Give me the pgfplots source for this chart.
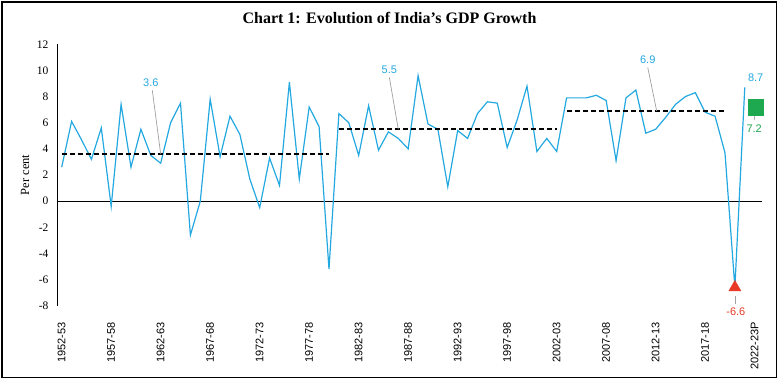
\documentclass[border=0pt]{standalone}
\usepackage{fontspec}
\setmainfont{Liberation Serif}
\newfontfamily\sansf{Liberation Sans}
\usepackage{pgfplots}
\pgfplotsset{compat=1.18}
\definecolor{gdpblue}{RGB}{35,168,224}
\definecolor{gred}{RGB}{232,58,38}
\definecolor{ggreen}{RGB}{30,168,80}
\definecolor{leader}{RGB}{160,160,160}
\begin{document}
\begin{tikzpicture}
\useasboundingbox (0,0) rectangle (779pt,380pt);
\draw[line width=1.2pt] (2pt,2.5pt) rectangle (776.5pt,378pt);
\node[font=\fontsize{16}{19}\selectfont\bfseries] at (389.5pt,362pt) {Chart 1: Evolution of India's GDP Growth};
\begin{axis}[
 at={(57pt,74.3pt)}, anchor=south west,
 scale only axis, width=705pt, height=261.4pt,
 xmin=-0.475, xmax=70.74, ymin=-8, ymax=12,
 axis lines*=left,
 x axis line style={draw=none},
 y axis line style={line width=0.8pt},
 major tick length=0pt,
 xtick={0,5,...,70},
 xticklabels={1952-53,1957-58,1962-63,1967-68,1972-73,1977-78,1982-83,1987-88,1992-93,1997-98,2002-03,2007-08,2012-13,2017-18,2022-23P},
 xticklabel style={font=\sansf\fontsize{11}{13}\selectfont, rotate=90, anchor=east},
 xticklabel shift=13pt,
 ytick={-8,-6,...,12},
 yticklabel style={font=\fontsize{11.5}{13}\selectfont, anchor=east},
 yticklabel shift=5pt,
 /pgf/number format/assume math mode=true,
 ylabel={Per cent},
 every axis y label/.style={at={(axis description cs:0,0.5)}, xshift=-32pt, rotate=90, anchor=center, font=\fontsize{12.5}{14}\selectfont},
 clip=false,
]
\addplot[black, line width=0.8pt, forget plot] coordinates {(-0.475,0) (70.74,0)};
\addplot[gdpblue, line width=1.2pt] coordinates {
(0,2.6) (1,6.1) (2,4.7) (3,3.2) (4,5.6) (5,-0.4) (6,7.4) (7,2.6) (8,5.5) (9,3.5)
(10,2.9) (11,6.0) (12,7.5) (13,-2.6) (14,0.0) (15,7.8) (16,3.4) (17,6.5) (18,5.1) (19,1.7)
(20,-0.5) (21,3.3) (22,1.2) (23,9.1) (24,1.7) (25,7.2) (26,5.7) (27,-5.2) (28,6.7) (29,6.0)
(30,3.5) (31,7.3) (32,3.9) (33,5.3) (34,4.8) (35,4.0) (36,9.6) (37,5.9) (38,5.5) (39,1.1)
(40,5.4) (41,4.8) (42,6.7) (43,7.6) (44,7.5) (45,4.1) (46,6.2) (47,8.8) (48,3.8) (49,4.8)
(50,3.8) (51,7.9) (52,7.9) (53,7.9) (54,8.1) (55,7.7) (56,3.1) (57,7.9) (58,8.5) (59,5.2)
(60,5.5) (61,6.4) (62,7.4) (63,8.0) (64,8.3) (65,6.8) (66,6.5) (67,3.7) (68,-6.6) (69,8.7)
};
\addplot[black, line width=1.6pt, dash pattern=on 5pt off 3pt] coordinates {(0,3.6) (27,3.6)};
\addplot[black, line width=1.6pt, dash pattern=on 5pt off 3pt] coordinates {(28,5.5) (50,5.5)};
\addplot[black, line width=1.6pt, dash pattern=on 5pt off 3pt] coordinates {(51,6.9) (67,6.9)};
\addplot[only marks, mark=square*, mark size=7.8pt, mark options={fill=ggreen, draw=ggreen}] coordinates {(70.1,7.2)};
\addplot[only marks, mark=triangle*, mark size=7pt, mark options={fill=gred, draw=gred}] coordinates {(68,-6.6)};
\draw[leader, line width=0.7pt] (axis cs:9.15,8.49) -- (axis cs:10,3.6);
\draw[leader, line width=0.7pt] (axis cs:33.1,9.46) -- (axis cs:34,5.5);
\draw[leader, line width=0.7pt] (axis cs:59.2,10.22) -- (axis cs:60.1,6.9);
\draw[leader, line width=0.7pt] (axis cs:70.1,7.1) -- (axis cs:69.95,6.2);
\draw[leader, line width=0.7pt] (axis cs:68.07,-7.25) -- (axis cs:68.07,-7.86);
\node[font=\sansf\fontsize{11}{13}\selectfont, text=gdpblue] at (axis cs:9,9.07) {3.6};
\node[font=\sansf\fontsize{11}{13}\selectfont, text=gdpblue] at (axis cs:33.1,10.02) {5.5};
\node[font=\sansf\fontsize{11}{13}\selectfont, text=gdpblue] at (axis cs:59.2,10.79) {6.9};
\node[font=\sansf\fontsize{11}{13}\selectfont, text=gdpblue] at (axis cs:70.1,9.46) {8.7};
\node[font=\sansf\fontsize{11}{13}\selectfont, text=ggreen] at (axis cs:69.95,5.55) {7.2};
\node[font=\sansf\fontsize{11}{13}\selectfont, text=gred] at (axis cs:68.1,-8.47) {-6.6};
\end{axis}
\end{tikzpicture}
\end{document}
